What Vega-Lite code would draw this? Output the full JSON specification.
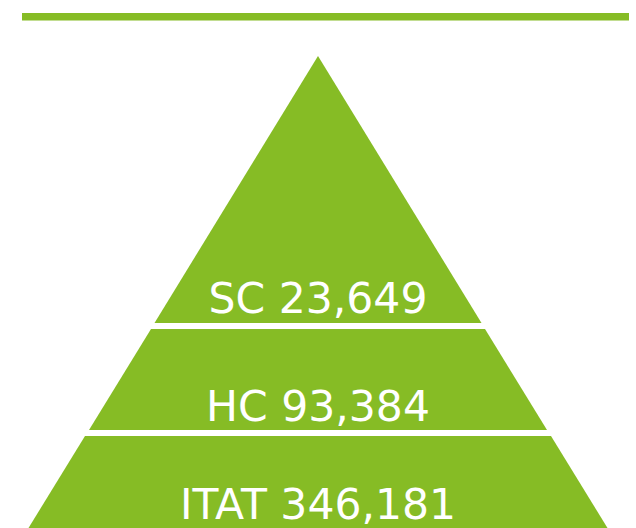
{
  "$schema": "https://vega.github.io/schema/vega-lite/v6.json",
  "autosize": {"type": "fit", "contains": "padding"},
  "width": 636,
  "height": 528,
  "padding": 0,
  "background": "white",
  "config": {"view": {"stroke": null}},
  "datasets": {
    "tiers": [
      {"tier": "SC", "y": 56, "left": 318, "right": 318},
      {"tier": "SC", "y": 323, "left": 154.5, "right": 481.5},
      {"tier": "HC", "y": 329, "left": 151, "right": 485},
      {"tier": "HC", "y": 430, "left": 89, "right": 547},
      {"tier": "ITAT", "y": 436, "left": 85, "right": 551},
      {"tier": "ITAT", "y": 528, "left": 28.5, "right": 607.5}
    ],
    "labels": [
      {"label": "SC 23,649", "x": 318, "y": 312.5},
      {"label": "HC 93,384", "x": 318, "y": 420.5},
      {"label": "ITAT 346,181", "x": 318, "y": 518.5}
    ],
    "band": [
      {"x": 22, "x2": 629, "y": 13, "y2": 20.5}
    ]
  },
  "layer": [
    {
      "data": {"name": "band"},
      "mark": {"type": "rect", "color": "#86BC25"},
      "encoding": {
        "x": {"field": "x", "type": "quantitative", "scale": {"domain": [0, 636], "nice": false, "zero": false}, "axis": null},
        "x2": {"field": "x2"},
        "y": {"field": "y", "type": "quantitative", "scale": {"domain": [0, 528], "nice": false, "zero": false, "reverse": true}, "axis": null},
        "y2": {"field": "y2"}
      }
    },
    {
      "data": {"name": "tiers"},
      "mark": {"type": "area", "orient": "horizontal", "color": "#86BC25", "opacity": 1},
      "encoding": {
        "y": {"field": "y", "type": "quantitative", "scale": {"domain": [0, 528], "nice": false, "zero": false, "reverse": true}, "axis": null},
        "x": {"field": "left", "type": "quantitative", "scale": {"domain": [0, 636], "nice": false, "zero": false}, "axis": null},
        "x2": {"field": "right"},
        "detail": {"field": "tier", "type": "nominal"}
      }
    },
    {
      "data": {"name": "labels"},
      "mark": {"type": "text", "color": "white", "font": "DejaVu Sans", "fontSize": 42.5, "align": "center", "baseline": "alphabetic"},
      "encoding": {
        "x": {"field": "x", "type": "quantitative", "scale": {"domain": [0, 636], "nice": false, "zero": false}, "axis": null},
        "y": {"field": "y", "type": "quantitative", "scale": {"domain": [0, 528], "nice": false, "zero": false, "reverse": true}, "axis": null},
        "text": {"field": "label", "type": "nominal"}
      }
    }
  ]
}
